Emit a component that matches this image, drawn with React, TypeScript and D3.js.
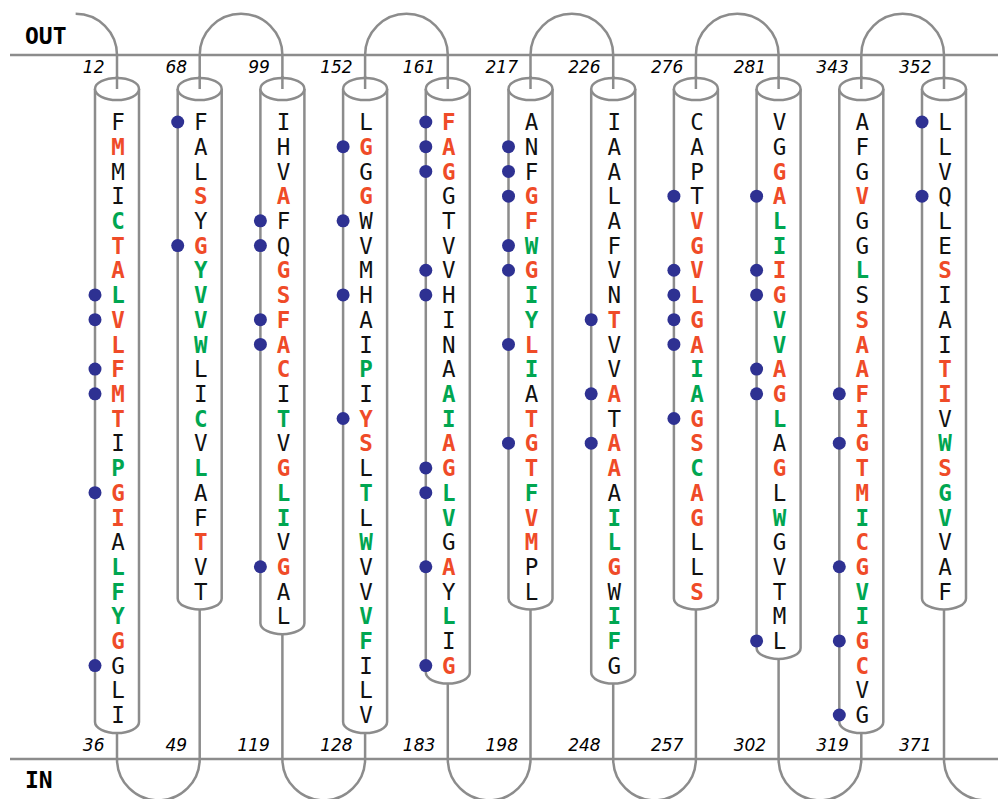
import * as d3 from 'd3';
import React, { useEffect, useRef } from 'react';

// helix sequences, top (OUT) to bottom (IN)
const helixSeqs = [
  'FMMICTALVLFMTIPGIALFYGGLI',
  'FALSYGYVVWLICVLAFTVT',
  'IHVAFQGSFACITVGLIVGAL',
  'LGGGWVMHAIPIYSLTLWVVVFILV',
  'FAGGTVVHINAAIAGLVGAYLIG',
  'ANFGFWGIYLIATGTFVMPL',
  'IAALAFVNTVVATAAAILGWIFG',
  'CAPTVGVLGAIAGSCAGLLS',
  'VGGALIIGVVAGLAGLWGVTML',
  'AFGVGGLSSAAFIGTMICGVIGCVG',
  'LLVQLESIAITIVWSGVVAF',
];

// k = plain, r = red, g = green
const helixColors = [
  'krkkgrrgrrrrrkgrrkgggrkkk',
  'kkkrkrggggkkgkgkkrkk',
  'kkkrkkrrrrrkgkrggkrkk',
  'krkrkkkkkkgkrrkgkgkkggkkk',
  'rrrkkkkkkkkggrrggkrkgkr',
  'kkkrrgrggrgkrrrgrrkk',
  'kkkkkkkkrkkrkrrkggrkggk',
  'kkkkrrrrrrggrrgrrkkr',
  'kkrrggrrggrrgkrkgkkkkk',
  'kkkrkkgkrrrrrrrrgrrggrrkk',
  'kkkkkkrkkkrrkgrggkkk',
];

// residues marked with a dot (index in helix)
const helixDots = [
  [7, 8, 10, 11, 15, 22],
  [0, 5],
  [4, 5, 8, 9, 18],
  [1, 4, 7, 12],
  [0, 1, 2, 6, 7, 14, 15, 18, 22],
  [1, 2, 3, 5, 6, 9, 13],
  [8, 11, 13],
  [3, 6, 7, 8, 9, 12],
  [3, 6, 7, 10, 11, 21],
  [11, 13, 18, 21, 24],
  [0, 3],
];

const topLabels = ['12', '68', '99', '152', '161', '217', '226', '276', '281', '343', '352'];
const bottomLabels = ['36', '49', '119', '128', '183', '198', '248', '257', '302', '319', '371'];

const width = 998;
const height = 799;
const outY = 55;
const inY = 759;
const capY = 89;
const rx = 22;
const ry = 11;

const colorMap: Record<string, string> = { k: '#111', r: '#ef4b28', g: '#00a651' };
const lineColor = '#8c8c8c';
const dotColor = '#2e3192';

export default function App() {
  const svgRef = useRef<SVGSVGElement>(null);

  useEffect(() => {
    const svg = d3.select(svgRef.current);
    svg.selectAll('*').remove();

    const x = d3.scaleLinear().domain([0, helixSeqs.length - 1]).range([117, 944]);
    const y = d3.scaleLinear().domain([0, 24]).range([122, 715]);
    const r = (x(1) - x(0)) / 2;
    const bottomOf = (i: number) => y(helixSeqs[i].length - 1) + 18;

    // membrane lines
    svg.append('g')
      .selectAll('line')
      .data([outY, inY])
      .enter()
      .append('line')
      .attr('x1', 10).attr('x2', width)
      .attr('y1', d => d).attr('y2', d => d)
      .attr('stroke', lineColor).attr('stroke-width', 2.5);

    svg.append('text').attr('x', 25).attr('y', 44).text('OUT')
      .attr('font-family', 'DejaVu Sans Mono').attr('font-weight', 'bold').attr('font-size', 23);
    svg.append('text').attr('x', 25).attr('y', 788).text('IN')
      .attr('font-family', 'DejaVu Sans Mono').attr('font-weight', 'bold').attr('font-size', 23);

    const loops = svg.append('g').attr('fill', 'none').attr('stroke', lineColor).attr('stroke-width', 2.5);

    // N-terminus
    loops.append('path').attr('d',
      `M${x(0) - r},${outY - r} A${r},${r} 0 0 1 ${x(0)},${outY} L${x(0)},${capY}`);

    // extracellular loops
    for (let i = 1; i + 1 < helixSeqs.length; i += 2) {
      const a = x(i), b = x(i + 1);
      loops.append('path').attr('d',
        `M${a},${capY} L${a},${outY} A${r},${r} 0 0 1 ${b},${outY} L${b},${capY}`);
    }
    // intracellular loops
    for (let i = 0; i + 1 < helixSeqs.length; i += 2) {
      const a = x(i), b = x(i + 1);
      loops.append('path').attr('d',
        `M${a},${bottomOf(i)} L${a},${inY} A${r},${r} 0 0 0 ${b},${inY} L${b},${bottomOf(i + 1)}`);
    }
    // C-terminus
    const last = helixSeqs.length - 1;
    loops.append('path').attr('d',
      `M${x(last)},${bottomOf(last)} L${x(last)},${inY} A${r},${r} 0 0 0 ${x(last) + r},${inY + r}`);

    // helices
    helixSeqs.forEach((seq, i) => {
      const cx = x(i);
      const bot = bottomOf(i);
      const g = svg.append('g');

      g.append('path')
        .attr('d', `M${cx - rx},${capY} L${cx - rx},${bot - ry} A${rx},${ry} 0 0 0 ${cx + rx},${bot - ry} L${cx + rx},${capY}`)
        .attr('fill', 'white').attr('stroke', lineColor).attr('stroke-width', 2.5);
      g.append('ellipse')
        .attr('cx', cx).attr('cy', capY).attr('rx', rx).attr('ry', ry)
        .attr('fill', 'white').attr('stroke', lineColor).attr('stroke-width', 2.5);
      g.append('line')
        .attr('x1', cx).attr('x2', cx).attr('y1', capY - ry - 2).attr('y2', capY)
        .attr('stroke', lineColor).attr('stroke-width', 2.5);

      g.selectAll('circle')
        .data(helixDots[i])
        .enter()
        .append('circle')
        .attr('cx', cx - rx)
        .attr('cy', d => y(d))
        .attr('r', 6.5)
        .attr('fill', dotColor);

      g.selectAll('text.res')
        .data(seq.split(''))
        .enter()
        .append('text')
        .attr('class', 'res')
        .attr('x', cx + 1)
        .attr('y', (d, j) => y(j) + 8.2)
        .attr('text-anchor', 'middle')
        .attr('font-family', 'DejaVu Sans Mono')
        .attr('font-size', 22.5)
        .attr('font-weight', (d, j) => (helixColors[i][j] === 'k' ? 'normal' : 'bold'))
        .attr('fill', (d, j) => colorMap[helixColors[i][j]])
        .text(d => d);

      g.append('text')
        .attr('x', cx - 12.5).attr('y', 73)
        .attr('text-anchor', 'end')
        .attr('font-family', 'DejaVu Sans').attr('font-style', 'italic').attr('font-size', 17)
        .text(topLabels[i]);
      g.append('text')
        .attr('x', cx - 12.5).attr('y', 751)
        .attr('text-anchor', 'end')
        .attr('font-family', 'DejaVu Sans').attr('font-style', 'italic').attr('font-size', 17)
        .text(bottomLabels[i]);
    });
  }, []);

  return (
    <svg ref={svgRef} width={width} height={height}
      style={{ position: 'absolute', left: 0, top: 0, background: 'white' }} />
  );
}
